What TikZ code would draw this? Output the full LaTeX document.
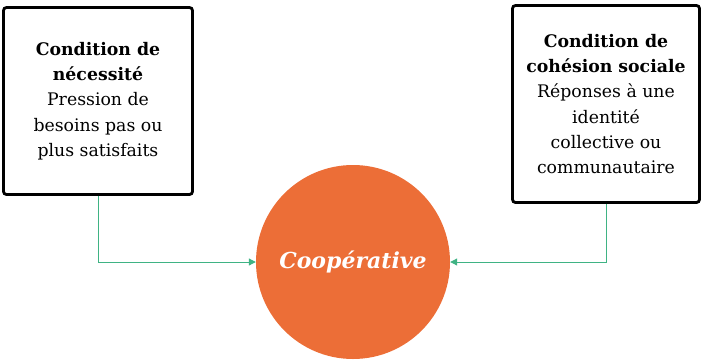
\documentclass[tikz,border=0pt]{standalone}
\usepackage{fontspec}
\setmainfont{DejaVu Serif}
\usetikzlibrary{arrows.meta}
\definecolor{coopor}{HTML}{EC6E37}
\definecolor{linkgr}{HTML}{3FB384}
\tikzset{
  condbox/.style={draw=black, line width=2.8pt, rounded corners=3pt, fill=white,
    align=center, font=\fontsize{17.3}{25.3}\selectfont, inner sep=0pt},
  coopnode/.style={circle, fill=coopor, text=white, inner sep=0pt,
    minimum size=194pt, font=\fontsize{22}{26}\selectfont\bfseries\itshape},
  link/.style={draw=linkgr, line width=1pt, -{Triangle[length=7pt,width=7pt]}}
}
\begin{document}
\begin{tikzpicture}[x=1pt,y=-1pt]
\useasboundingbox (0,0) rectangle (702,360);
\node[condbox, minimum width=189pt, minimum height=187pt] (lbox) at (98,101)
  {\textbf{Condition de}\\\textbf{nécessité}\\Pression de\\besoins pas ou\\plus satisfaits};
\node[condbox, minimum width=187pt, minimum height=197pt] (rbox) at (606,104)
  {\textbf{Condition de}\\\textbf{cohésion sociale}\\Réponses à une\\identité\\collective ou\\communautaire};
\node[coopnode] (coop) at (353,262) {Coopérative};
\draw[link] (lbox.south) |- (coop.west);
\draw[link] (rbox.south) |- (coop.east);
\end{tikzpicture}
\end{document}
